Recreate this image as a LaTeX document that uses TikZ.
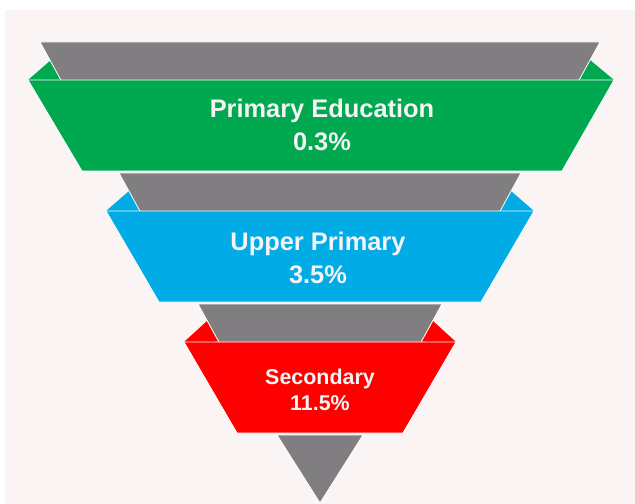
\documentclass[tikz,border=0pt]{standalone}
\usepackage{fontspec}
\setmainfont{Liberation Sans}
\definecolor{bg}{HTML}{FAF4F4}
\definecolor{fgray}{HTML}{807E80}
\definecolor{fgreen}{HTML}{00A84F}
\definecolor{fblue}{HTML}{00ABE6}
\definecolor{fred}{HTML}{FF0000}
\definecolor{txt}{HTML}{F4F4F4}
\begin{document}
\begin{tikzpicture}[x=1bp,y=-1bp,
  graypart/.style={fill=fgray, draw=white, line width=0.8bp},
  band/.style={draw=white, line width=0.8bp},
  label/.style={text=txt, align=center, font=\bfseries}]
\fill[white] (0,0) rectangle (635,504);
\fill[bg] (5,10) rectangle (635,504);
\useasboundingbox (0,0) rectangle (635,504);
% level 1
\fill[fgreen] (28,80) -- (51,60) -- (63,80) -- cycle;
\fill[fgreen] (614,80) -- (590,60) -- (579,80) -- cycle;
\filldraw[graypart] (40,42) -- (600,42) -- (578,82) -- (62,82) -- cycle;
\filldraw[band, fill=fgreen] (28,80) -- (614,80) -- (562,171) -- (82,171) -- cycle;
\node[label, font=\bfseries\fontsize{25.5}{34}\selectfont] (l1) at (322,125) {Primary Education\\0.3\%};
% level 2
\fill[fblue] (106,211) -- (129,191) -- (140,211) -- cycle;
\fill[fblue] (534,211) -- (511,191) -- (500,211) -- cycle;
\filldraw[graypart] (119,173) -- (521,173) -- (499,213) -- (141,213) -- cycle;
\filldraw[band, fill=fblue] (106,211) -- (534,211) -- (481,302) -- (159,302) -- cycle;
\node[label, font=\bfseries\fontsize{25.5}{33}\selectfont] (l2) at (318,258) {Upper Primary\\3.5\%};
% level 3
\fill[fred] (184,342) -- (207,321) -- (219,342) -- cycle;
\fill[fred] (456,342) -- (433,321) -- (421,342) -- cycle;
\filldraw[graypart] (198,304) -- (442,304) -- (420,344) -- (220,344) -- cycle;
\filldraw[band, fill=fred] (184,342) -- (456,342) -- (403,433) -- (237,433) -- cycle;
\node[label, font=\bfseries\fontsize{21.5}{26}\selectfont] (l3) at (320,390) {Secondary\\11.5\%};
% tip
\filldraw[graypart] (277,435) -- (363,435) -- (320,503) -- cycle;
\end{tikzpicture}
\end{document}
